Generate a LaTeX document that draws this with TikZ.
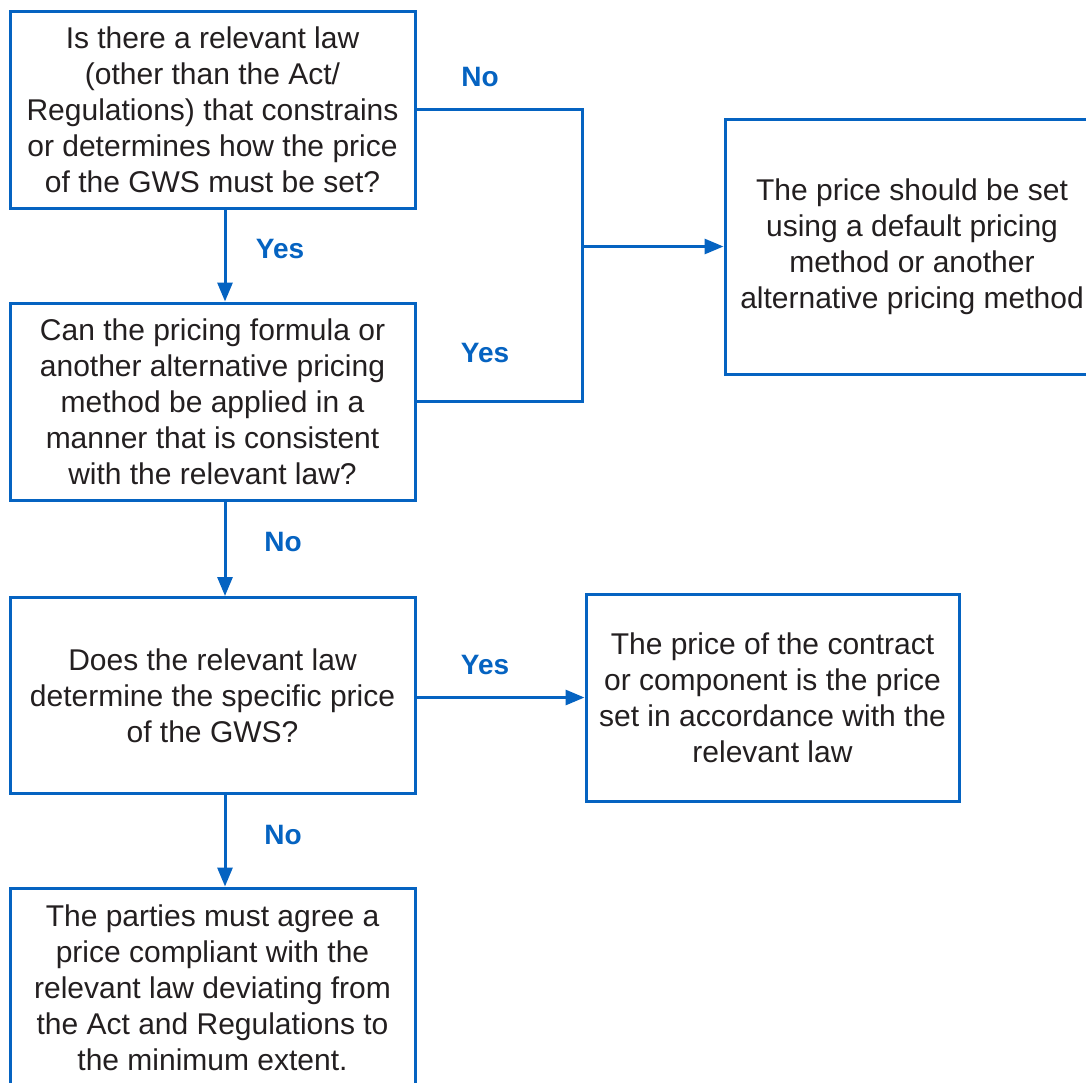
\documentclass[tikz,border=0pt]{standalone}
\usepackage{fontspec}
\setmainfont{Liberation Sans}
\usetikzlibrary{arrows.meta}
\definecolor{flowblue}{HTML}{0563C1}
\definecolor{txtgray}{HTML}{231F20}
\tikzset{
  box/.style={draw=flowblue, line width=3pt, rectangle, inner sep=0pt, align=center,
    text=txtgray, font=\fontsize{30}{36}\selectfont, anchor=center},
  conn/.style={draw=flowblue, line width=3pt},
  arr/.style={conn, -{Triangle[length=19pt,width=15pt]}},
  lbl/.style={text=flowblue, font=\fontsize{28}{32}\selectfont\bfseries, anchor=center}
}
\begin{document}
\begin{tikzpicture}[x=1pt,y=-1pt]
\useasboundingbox (0,0) rectangle (1086,1082);
\clip (0,0) rectangle (1086,1082);
\fill[white] (0,0) rectangle (1086,1082);
\node[box, minimum width=405pt, minimum height=197pt] (b1) at (212.5,109.5)
  {Is there a relevant law\\(other than the Act/\\Regulations) that constrains\\or determines how the price\\of the GWS must be set?};
\node[box, minimum width=405pt, minimum height=197pt] (b2) at (212.5,401.5)
  {Can the pricing formula or\\another alternative pricing\\method be applied in a\\manner that is consistent\\with the relevant law?};
\node[box, minimum width=405pt, minimum height=196pt] (b3) at (212.5,695.5)
  {Does the relevant law\\determine the specific price\\of the GWS?};
\node[box, minimum width=405pt, minimum height=200pt] (b4) at (212.5,988)
  {The parties must agree a\\price compliant with the\\relevant law deviating from\\the Act and Regulations to\\the minimum extent.};
\node[box, minimum width=374pt, minimum height=255pt] (b5) at (912,246.5)
  {The price should be set\\using a default pricing\\method or another\\alternative pricing method};
\node[box, minimum width=373pt, minimum height=207pt] (b6) at (772.5,697.5)
  {The price of the contract\\or component is the price\\set in accordance with the\\relevant law};
\coordinate (jx) at (582,246.5);
\draw[conn] (b1.east) -| (jx) |- (b2.east);
\draw[arr] (jx) -- (b5.west);
\draw[arr] ([xshift=12.5pt]b1.south) -- ([xshift=12.5pt]b2.north);
\draw[arr] ([xshift=12.5pt]b2.south) -- ([xshift=12.5pt]b3.north);
\draw[arr] (b3.east |- b6.west) -- (b6.west);
\draw[arr] ([xshift=12.5pt]b3.south) -- ([xshift=12.5pt]b4.north);
\node[lbl] (l1) at (480,77) {No};
\node[lbl] (l2) at (280,249) {Yes};
\node[lbl] (l3) at (485,353) {Yes};
\node[lbl] (l4) at (283,542) {No};
\node[lbl] (l5) at (485,665) {Yes};
\node[lbl] (l6) at (283,835) {No};
\end{tikzpicture}
\end{document}
